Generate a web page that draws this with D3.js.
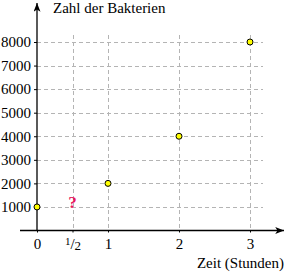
<!DOCTYPE html>
<html><head><meta charset="utf-8">
<script src="https://cdn.jsdelivr.net/npm/d3@7"></script>
<style>body{margin:0;background:#fff}svg{display:block}</style>
</head><body><svg id="c" width="285" height="273" font-family="Liberation Serif, serif"></svg>
<script>
const times = [0, 1, 2, 3];
const bacteria = [1000, 2000, 4000, 8000];
const xTicks = [0, 0.5, 1, 2, 3];
const yTicks = [1000, 2000, 3000, 4000, 5000, 6000, 7000, 8000];
const unknownPoint = {t: 0.5, label: "?"};
const yTitle = "Zahl der Bakterien";
const xTitle = "Zeit (Stunden)";
const FONT = "'Liberation Serif', 'Times New Roman', Times, serif";
const FS = "15px";

const svg = d3.select("#c");
const x = d3.scaleLinear().domain([0, 3]).range([37, 250]);
const y = d3.scaleLinear().domain([0, 8000]).range([230.5, 42]);
const gridTop = 35, gridRight = 263;

// grid
const g = svg.append("g").attr("stroke", "#b4b4b4").attr("stroke-dasharray", "4,3").attr("stroke-width", 1);
g.selectAll(".h").data(yTicks).join("line")
  .attr("x1", x(0)).attr("x2", gridRight)
  .attr("y1", d => Math.round(y(d)) + 0.5).attr("y2", d => Math.round(y(d)) + 0.5);
g.selectAll(".v").data(xTicks.filter(d => d > 0)).join("line")
  .attr("x1", d => Math.round(x(d)) + 0.5).attr("x2", d => Math.round(x(d)) + 0.5)
  .attr("y1", gridTop).attr("y2", y(0));

// axes
const yAxis = d3.axisLeft(y).tickValues(yTicks).tickSize(3).tickPadding(3).tickFormat(d3.format("d"));
const ya = svg.append("g").attr("transform", `translate(${x(0)},0)`).call(yAxis).attr("font-family", null).attr("font-size", null);
ya.select(".domain").remove();
ya.selectAll("text").style("font-size", FS).style("font-family", FONT).attr("fill", "#000");
ya.selectAll("line").attr("stroke", "#000");

const xAxis = d3.axisBottom(x).tickValues(xTicks).tickSize(2).tickPadding(6).tickFormat(d => d === 0.5 ? "" : d3.format("d")(d));
const xa = svg.append("g").attr("transform", `translate(0,${y(0)})`).call(xAxis).attr("font-family", null).attr("font-size", null);
xa.select(".domain").remove();
xa.selectAll("text").style("font-size", FS).style("font-family", FONT).attr("fill", "#000");
xa.selectAll("line").attr("stroke", "#000");
// 1/2 label
const half = xa.selectAll(".tick").filter(d => d === 0.5).select("text").attr("dy", null).attr("y", 18.5);
half.append("tspan").style("font-size", "11px").attr("dy", -4).text("1");
half.append("tspan").style("font-size", FS).attr("dy", 4).text("/");
half.append("tspan").style("font-size", "13px").attr("dy", 1).text("2");

// axis lines with arrows
const defs = svg.append("defs");
defs.append("marker").attr("id", "arr").attr("viewBox", "0 0 10 8").attr("refX", 10).attr("refY", 4)
  .attr("markerWidth", 10).attr("markerHeight", 7).attr("markerUnits", "userSpaceOnUse").attr("orient", "auto")
  .append("path").attr("d", "M0,0 L10,4 L0,8 L2.5,4 Z").attr("fill", "#000");
svg.append("line").attr("x1", 20).attr("x2", 284).attr("y1", y(0)).attr("y2", y(0))
  .attr("stroke", "#000").attr("stroke-width", 1.3).attr("marker-end", "url(#arr)");
svg.append("line").attr("x1", x(0)).attr("x2", x(0)).attr("y1", y(0)).attr("y2", 3)
  .attr("stroke", "#000").attr("stroke-width", 1.3).attr("marker-end", "url(#arr)");

// points
svg.selectAll(".pt").data(times.map((t, i) => ({t, v: bacteria[i]}))).join("circle")
  .attr("cx", d => x(d.t)).attr("cy", d => y(d.v)).attr("r", 3)
  .attr("fill", "#ffff00").attr("stroke", "#000").attr("stroke-width", 1);

// question mark
svg.append("text").attr("x", x(unknownPoint.t)).attr("y", 207.5).attr("text-anchor", "middle")
  .style("font-family", FONT).style("font-size", "17px").attr("font-weight", "bold").attr("fill", "#e8175d").text(unknownPoint.label);

// titles
svg.append("text").attr("x", 53).attr("y", 12.5).style("font-family", FONT).style("font-size", FS).attr("fill", "#000").text(yTitle);
svg.append("text").attr("x", 284).attr("y", 268).attr("text-anchor", "end").style("font-family", FONT).style("font-size", FS).attr("fill", "#000").text(xTitle);
</script></body></html>
